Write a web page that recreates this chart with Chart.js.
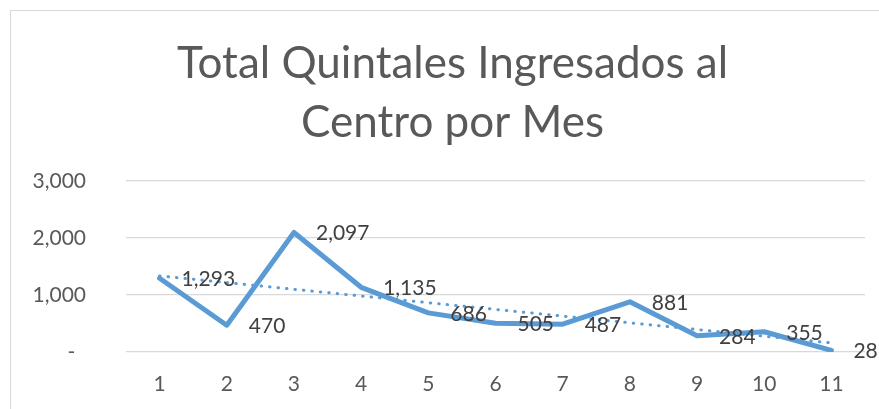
<!DOCTYPE html>
<html>
<head>
<meta charset="utf-8">
<script src="https://cdn.jsdelivr.net/npm/chart.js@4/dist/chart.umd.min.js"></script>
<style>
  html, body { margin: 0; padding: 0; background: #ffffff; }
  #wrap { position: relative; width: 879px; height: 409px; overflow: hidden; }
  #frame { position: absolute; left: 10px; top: 10px; width: 900px; height: 420px;
           border-left: 1px solid #d9d9d9; border-top: 1px solid #d9d9d9; box-sizing: border-box; }
  canvas { position: absolute; left: 0; top: 0; }
</style>
</head>
<body>
<div id="wrap">
  <div id="frame"></div>
  <canvas id="c" width="879" height="409"></canvas>
</div>
<script>
const titleLines = ['Total Quintales Ingresados al', 'Centro por Mes'];
const months = ['1', '2', '3', '4', '5', '6', '7', '8', '9', '10', '11'];
const quintales = [1293, 470, 2097, 1135, 686, 505, 487, 881, 284, 355, 28];
const yTicks = [0, 1000, 2000, 3000];

// linear trendline (least squares) computed from the series
function linearTrend(vals) {
  const n = vals.length;
  let sx = 0, sy = 0, sxy = 0, sxx = 0;
  vals.forEach((v, i) => { const x = i + 1; sx += x; sy += v; sxy += x * v; sxx += x * x; });
  const b = (n * sxy - sx * sy) / (n * sxx - sx * sx);
  const a = (sy - b * sx) / n;
  return vals.map((_, i) => a + b * (i + 1));
}
const trend = linearTrend(quintales);

const fmt = v => v.toLocaleString('en-US');

// Title centred on the whole chart frame (which runs past the right edge)
const frameTitle = {
  id: 'frameTitle',
  afterDraw(chart) {
    const ctx = chart.ctx;
    ctx.save();
    ctx.font = '44px Lato';
    ctx.fillStyle = '#595959';
    ctx.textAlign = 'center';
    ctx.textBaseline = 'alphabetic';
    const baselines = [77.5, 136.5];
    titleLines.forEach((t, i) => ctx.fillText(t, 452.5, baselines[i]));
    ctx.restore();
  }
};

const dataLabels = {
  id: 'dataLabels',
  afterDatasetsDraw(chart) {
    const ctx = chart.ctx;
    const meta = chart.getDatasetMeta(0);
    ctx.save();
    ctx.font = '21px Lato';
    ctx.fillStyle = '#404040';
    ctx.textAlign = 'left';
    ctx.textBaseline = 'middle';
    meta.data.forEach((pt, i) => {
      ctx.fillText(fmt(quintales[i]), pt.x + 22, pt.y + 1);
    });
    ctx.restore();
  }
};

new Chart(document.getElementById('c'), {
  type: 'line',
  data: {
    labels: months,
    datasets: [
      {
        label: 'Quintales',
        data: quintales,
        borderColor: '#5b9bd5',
        borderWidth: 5,
        pointRadius: 0,
        tension: 0,
        borderJoinStyle: 'round',
        borderCapStyle: 'round',
        fill: false,
        order: 1
      },
      {
        label: 'Tendencia',
        data: trend,
        borderColor: '#5b9bd5',
        borderWidth: 3,
        borderDash: [0.5, 8],
        borderCapStyle: 'round',
        pointRadius: 0,
        tension: 0,
        fill: false,
        order: 0
      }
    ]
  },
  options: {
    responsive: false,
    animation: false,
    events: [],
    layout: { padding: { left: 0, right: 14, top: 181, bottom: 0 } },
    plugins: {
      legend: { display: false },
      tooltip: { enabled: false },
      title: { display: false }
    },
    scales: {
      x: {
        offset: true,
        grid: { display: false, drawTicks: false },
        border: { display: false },
        ticks: { color: '#595959', font: { family: 'Lato', size: 21 }, padding: 20, maxRotation: 0 },
        afterFit(scale) { scale.height = 57; }
      },
      y: {
        min: 0,
        max: 3000,
        afterBuildTicks(scale) { scale.ticks = yTicks.map(v => ({ value: v })); },
        grid: { color: '#d9d9d9', lineWidth: 1.3, drawTicks: false },
        border: { display: false },
        ticks: {
          color: '#595959',
          font: { family: 'Lato', size: 21 },
          padding: 40,
          callback: v => (v === 0 ? '-  ' : fmt(v))
        },
        afterFit(scale) { scale.width = 126; }
      }
    }
  },
  plugins: [dataLabels, frameTitle]
});
</script>
</body>
</html>
